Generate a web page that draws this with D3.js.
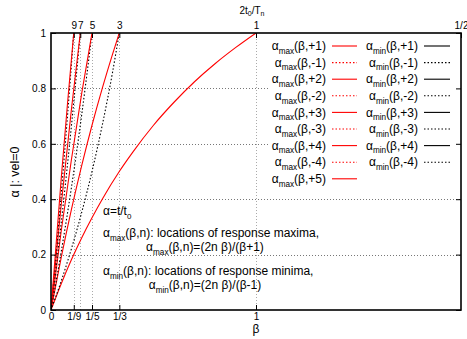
<!DOCTYPE html>
<html>
<head>
<meta charset="utf-8">
<script src="https://cdn.jsdelivr.net/npm/d3@7"></script>
<style>
  body { margin: 0; background: #fff; }
  svg { display: block; font-family: "Liberation Sans", Arial, sans-serif; }
</style>
</head>
<body>
<svg width="467" height="339"></svg>
<script>
// tick positions (beta) and their labels
const xTicksBottom = [0, 1 / 9, 1 / 5, 1 / 3, 1];
const xLabelsBottom = ["0", "1/9", "1/5", "1/3", "1"];
const xTicksTop = [1 / 9, 1 / 7, 1 / 5, 1 / 3, 1, 2];
const xLabelsTop = ["9", "7", "5", "3", "1", "1/2"];
const yTicks = [0, 0.2, 0.4, 0.6, 0.8, 1];
const yLabels = ["0", "0.2", "0.4", "0.6", "0.8", "1"];

// curves, [beta, alpha]
const maxP1 = [[0, 0], [0.05, 0.095], [0.1, 0.182], [0.15, 0.261], [0.2, 0.333], [0.25, 0.4], [0.333, 0.5],
    [0.4, 0.571], [0.5, 0.667], [0.6, 0.75], [0.7, 0.824], [0.8, 0.889], [0.9, 0.947], [1, 1]];
const maxP2 = [[0, 0], [0.05, 0.19], [0.1, 0.364], [0.15, 0.522], [0.2, 0.667], [0.25, 0.8], [0.3, 0.923], [0.333, 1]];
const maxP3 = [[0, 0], [0.05, 0.286], [0.1, 0.545], [0.15, 0.783], [0.2, 1]];
const maxP4 = [[0, 0], [0.05, 0.381], [0.1, 0.727], [0.143, 1]];
const maxP5 = [[0, 0], [0.05, 0.476], [0.08, 0.741], [0.111, 1]];
const minM1 = [[0, 0], [0.05, 0.105], [0.1, 0.222], [0.15, 0.353], [0.2, 0.5], [0.25, 0.667], [0.3, 0.857], [0.333, 1]];
const minM2 = [[0, 0], [0.05, 0.211], [0.1, 0.444], [0.15, 0.706], [0.2, 1]];
const minM3 = [[0, 0], [0.05, 0.316], [0.1, 0.667], [0.143, 1]];
const minM4 = [[0, 0], [0.05, 0.421], [0.08, 0.696], [0.111, 1]];

// legend entries (n values) for the two key columns
const legendMax = ["+1", "-1", "+2", "-2", "+3", "-3", "+4", "-4", "+5"];
const legendMin = ["+1", "-1", "+2", "-2", "+3", "-3", "+4", "-4"];

const curves = [
    { pts: maxP1, color: "#ff0000", dash: null },
    { pts: minM1, color: "#000000", dash: "1.5,2" },
    { pts: maxP2, color: "#ff0000", dash: null },
    { pts: minM2, color: "#000000", dash: "1.5,2" },
    { pts: maxP3, color: "#ff0000", dash: null },
    { pts: minM3, color: "#000000", dash: "1.5,2" },
    { pts: maxP4, color: "#ff0000", dash: null },
    { pts: minM4, color: "#000000", dash: "1.5,2" },
    { pts: maxP5, color: "#ff0000", dash: null }
];

const svg = d3.select("svg");
const area = { left: 51, right: 461, top: 33, bottom: 310 };

const x = d3.scaleLinear().domain([0, 2]).range([area.left, area.right]);
const y = d3.scaleLinear().domain([0, 1]).range([area.bottom, area.top]);

svg.append("defs").append("clipPath").attr("id", "plot")
    .append("rect")
    .attr("x", area.left).attr("y", area.top)
    .attr("width", area.right - area.left).attr("height", area.bottom - area.top);

// grid
const grid = svg.append("g").attr("stroke", "#777").attr("stroke-dasharray", "1,2").attr("stroke-width", 1);
grid.selectAll(".gy").data(yTicks.slice(1, -1)).enter().append("line")
    .attr("x1", area.left).attr("x2", area.right)
    .attr("y1", (d) => Math.round(y(d)) + 0.5).attr("y2", (d) => Math.round(y(d)) + 0.5);
grid.selectAll(".gx").data(xTicksTop.slice(0, -1)).enter().append("line")
    .attr("y1", area.top).attr("y2", area.bottom)
    .attr("x1", (d) => Math.round(x(d)) + 0.5).attr("x2", (d) => Math.round(x(d)) + 0.5)
    .attr("stroke", "#aaa");

// curves
const line = d3.line().x((d) => x(d[0])).y((d) => y(d[1])).curve(d3.curveMonotoneX);
svg.append("g").attr("clip-path", "url(#plot)")
    .selectAll("path").data(curves).enter().append("path")
    .attr("d", (d) => line(d.pts))
    .attr("fill", "none")
    .attr("stroke", (d) => d.color)
    .attr("stroke-width", 1.1)
    .attr("stroke-dasharray", (d) => d.dash);

// key with white background
const key = svg.append("g");
key.append("rect").attr("x", 268).attr("y", 35).attr("width", 192).attr("height", 153).attr("fill", "#fff");
const rowY = (i) => 46 + i * 16.6;

function subLabel(g, xPos, yPos, sub, rest, anchor, size) {
    const t = g.append("text").attr("x", xPos).attr("y", yPos)
        .attr("text-anchor", anchor).attr("font-size", size).attr("dy", "0.35em").attr("fill", "#000");
    t.append("tspan").text("α");
    t.append("tspan").text(sub).attr("font-size", size * 0.68).attr("dy", size * 0.3);
    t.append("tspan").text(rest).attr("dy", -size * 0.3);
    return t;
}

legendMax.forEach((n, i) => {
    subLabel(key, 326, rowY(i), "max", "(β," + n + ")", "end", 12);
    key.append("line").attr("x1", 332).attr("x2", 357).attr("y1", rowY(i)).attr("y2", rowY(i))
        .attr("stroke", "#ff0000").attr("stroke-width", 1.1)
        .attr("stroke-dasharray", n[0] === "-" ? "1.5,2" : null);
});
legendMin.forEach((n, i) => {
    subLabel(key, 418, rowY(i), "min", "(β," + n + ")", "end", 12);
    key.append("line").attr("x1", 424).attr("x2", 450).attr("y1", rowY(i)).attr("y2", rowY(i))
        .attr("stroke", "#000").attr("stroke-width", 1.1)
        .attr("stroke-dasharray", n[0] === "-" ? "1.5,2" : null);
});

// axes
const axisFont = (g) => g.selectAll("text").attr("font-size", 10).attr("font-family", "Liberation Sans, Arial, sans-serif").attr("fill", "#000");
const clean = (g) => g.select(".domain").remove();

svg.append("g").attr("transform", `translate(0,${area.bottom})`)
    .call(d3.axisBottom(x).tickValues(xTicksBottom).tickSize(-5).tickPadding(3)
        .tickFormat((d, i) => xLabelsBottom[i]))
    .call(clean).call(axisFont);
svg.append("g").attr("transform", `translate(0,${area.top})`)
    .call(d3.axisTop(x).tickValues(xTicksTop).tickSize(-5).tickPadding(4.5)
        .tickFormat((d, i) => xLabelsTop[i]))
    .call(clean).call(axisFont);
svg.append("g").attr("transform", `translate(${area.left},0)`)
    .call(d3.axisLeft(y).tickValues(yTicks).tickSize(-5).tickPadding(5)
        .tickFormat((d, i) => yLabels[i]))
    .call(clean).call(axisFont);
svg.append("g").attr("transform", `translate(${area.right},0)`)
    .call(d3.axisRight(y).tickValues(yTicks).tickSize(-5).tickFormat(""))
    .call(clean);

svg.append("rect")
    .attr("x", area.left).attr("y", area.top)
    .attr("width", area.right - area.left).attr("height", area.bottom - area.top)
    .attr("fill", "none").attr("stroke", "#000").attr("stroke-width", 1.6);

// axis titles
svg.append("text").attr("x", 256).attr("y", 333).attr("text-anchor", "middle")
    .attr("font-size", 12).text("β");
svg.append("text").attr("transform", "translate(19,172) rotate(-90)").attr("text-anchor", "middle")
    .attr("font-size", 12.5).text("α |: vel=0");
const x2Title = svg.append("text").attr("x", 252).attr("y", 14).attr("text-anchor", "middle").attr("font-size", 10);
x2Title.append("tspan").text("2t");
x2Title.append("tspan").text("0").attr("font-size", 7).attr("dy", 2);
x2Title.append("tspan").text("/T").attr("dy", -2);
x2Title.append("tspan").text("n").attr("font-size", 7).attr("dy", 2);

// annotations
const note = svg.append("g");
const a0 = note.append("text").attr("x", 103).attr("y", 211).attr("dy", "0.35em").attr("font-size", 12);
a0.append("tspan").text("α=t/t");
a0.append("tspan").text("0").attr("font-size", 8).attr("dy", 3.5);
subLabel(note, 103, 233, "max", "(β,n): locations of response maxima,", "start", 12);
subLabel(note, 205, 247, "max", "(β,n)=(2n β)/(β+1)", "middle", 12);
subLabel(note, 103, 271, "min", "(β,n): locations of response minima,", "start", 12);
subLabel(note, 205, 285, "min", "(β,n)=(2n β)/(β-1)", "middle", 12);
</script>
</body>
</html>
